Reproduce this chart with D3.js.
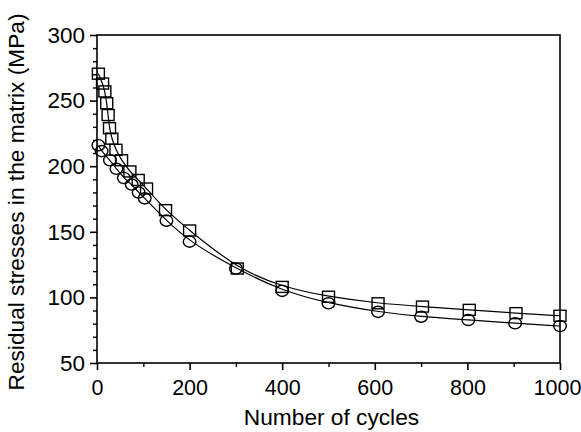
<!DOCTYPE html>
<html>
<head>
<meta charset="utf-8">
<script src="https://cdn.jsdelivr.net/npm/d3@7"></script>
<style>
  html, body { margin: 0; padding: 0; background: #fff; }
  svg { display: block; font-family: "Liberation Sans", Arial, Helvetica, sans-serif; }
</style>
</head>
<body>
<svg id="chart" width="581" height="432"></svg>
<script>
// Residual stress in the matrix versus number of thermal cycles
const squareCycles = [3, 12, 17, 21, 24, 27, 32, 41, 53, 71, 89, 107, 148, 200, 303, 400, 500, 607, 703, 804, 905, 1000];
const squareStress = [270.5, 263, 257, 248, 239, 229, 221, 212.5, 204.5, 196, 189.5, 183, 166.5, 151, 122, 108, 100.5, 95.5, 93, 90.5, 88, 86];

const circleCycles = [3, 10, 28, 42, 58, 75, 90, 103, 150, 200, 300, 400, 500, 607, 700, 802, 903, 1000];
const circleStress = [216, 211.5, 204.5, 198, 191, 186, 180, 175.5, 158.5, 142.5, 122, 105, 95.5, 89, 85.3, 82.8, 80.3, 78.2];

const xTicks = [0, 200, 400, 600, 800, 1000];
const xMinorTicks = [100, 300, 500, 700, 900];
const yTicks = [50, 100, 150, 200, 250, 300];
const yMinorTicks = d3.range(60, 300, 10).filter(v => v % 50 !== 0);

const xTitle = "Number of cycles";
const yTitle = "Residual stresses in the matrix (MPa)";

const svg = d3.select("#chart");
const plotLeft = 97, plotRight = 560, plotTop = 35, plotBottom = 363;

const x = d3.scaleLinear().domain([0, 1000]).range([plotLeft, plotRight]);
const y = d3.scaleLinear().domain([50, 300]).range([plotBottom, plotTop]);

const sq = squareCycles.map((c, i) => [c, squareStress[i]]);
const ci = circleCycles.map((c, i) => [c, circleStress[i]]);

// Frame
svg.append("rect")
  .attr("x", plotLeft).attr("y", plotTop)
  .attr("width", plotRight - plotLeft).attr("height", plotBottom - plotTop)
  .attr("fill", "none").attr("stroke", "#000").attr("stroke-width", 1.6);

// Minor ticks
const xMinorAxis = d3.axisBottom(x).tickValues(xMinorTicks).tickSize(4).tickFormat("");
svg.append("g").attr("transform", `translate(0,${plotBottom})`).call(xMinorAxis)
  .call(g => g.select(".domain").remove())
  .selectAll("line").attr("stroke-width", 1.4);
const yMinorAxis = d3.axisLeft(y).tickValues(yMinorTicks).tickSize(4).tickFormat("");
svg.append("g").attr("transform", `translate(${plotLeft},0)`).call(yMinorAxis)
  .call(g => g.select(".domain").remove())
  .selectAll("line").attr("stroke-width", 1.4);

// Major ticks with labels; the last label is nudged so it stays on the canvas
const xAxis = d3.axisBottom(x).tickValues(xTicks).tickSize(7).tickPadding(10).tickFormat(d3.format("d"));
svg.append("g").attr("transform", `translate(0,${plotBottom})`).call(xAxis)
  .call(g => g.select(".domain").remove())
  .call(g => g.selectAll("line").attr("stroke-width", 1.6))
  .call(g => g.selectAll("text").attr("font-size", 21.5).attr("fill", "#000")
    .attr("font-family", "Liberation Sans, Arial, sans-serif")
    .attr("dx", d => d === 1000 ? -3 : 0));

const yAxis = d3.axisLeft(y).tickValues(yTicks).tickSize(7).tickPadding(5).tickFormat(d3.format("d"));
svg.append("g").attr("transform", `translate(${plotLeft},0)`).call(yAxis)
  .call(g => g.select(".domain").remove())
  .call(g => g.selectAll("line").attr("stroke-width", 1.6))
  .call(g => g.selectAll("text").attr("font-size", 22.5).attr("fill", "#000")
    .attr("font-family", "Liberation Sans, Arial, sans-serif"));

// Axis titles
svg.append("text")
  .attr("x", (plotLeft + plotRight) / 2 + 3).attr("y", 425)
  .attr("text-anchor", "middle").attr("font-size", 22.7).attr("fill", "#000")
  .text(xTitle);
svg.append("text")
  .attr("transform", `translate(24,${(plotTop + plotBottom) / 2 + 3}) rotate(-90)`)
  .attr("text-anchor", "middle").attr("font-size", 22.7).attr("fill", "#000")
  .text(yTitle);

// Smooth trend lines through each series
const line = d3.line().x(d => x(d[0])).y(d => y(d[1])).curve(d3.curveBasis);
const plot = svg.append("g");
plot.append("path").datum(sq).attr("d", line)
  .attr("fill", "none").attr("stroke", "#000").attr("stroke-width", 1.2);
plot.append("path").datum(ci).attr("d", line)
  .attr("fill", "none").attr("stroke", "#000").attr("stroke-width", 1.2);

// Square markers
const s = 12;
plot.selectAll("rect.sq").data(sq).join("rect").attr("class", "sq")
  .attr("x", d => x(d[0]) - s / 2).attr("y", d => y(d[1]) - s / 2 + 0.5)
  .attr("width", s).attr("height", s - 1)
  .attr("fill", "none").attr("stroke", "#000").attr("stroke-width", 1.4);

// Circle markers
plot.selectAll("ellipse.ci").data(ci).join("ellipse").attr("class", "ci")
  .attr("cx", d => x(d[0])).attr("cy", d => y(d[1]))
  .attr("rx", 6.3).attr("ry", 5.6)
  .attr("fill", "none").attr("stroke", "#000").attr("stroke-width", 1.4);
</script>
</body>
</html>
